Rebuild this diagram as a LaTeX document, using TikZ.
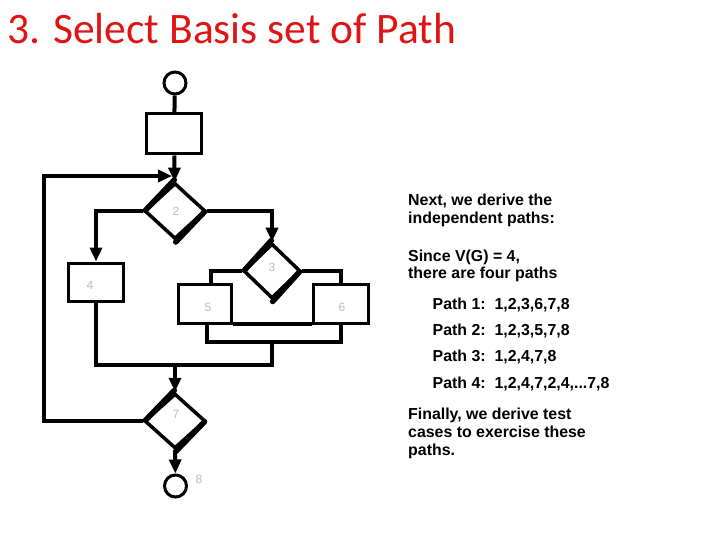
\documentclass[tikz,border=0pt]{standalone}
\usepackage{fontspec}
\newfontfamily\arial{Liberation Sans}
\newfontfamily\calibri{Carlito}
\usetikzlibrary{shapes.geometric,arrows.meta}
\definecolor{titlered}{RGB}{224,20,20}
\definecolor{lblgray}{RGB}{185,185,185}
\begin{document}
\begin{tikzpicture}[x=1pt,y=-1pt,
  shp/.style={draw,line width=3pt,inner sep=0pt},
  box/.style={shp,rectangle,minimum width=55pt,minimum height=39pt},
  dia/.style={shp,diamond,line width=3.5pt,minimum width=61pt,minimum height=56pt},
  term/.style={shp,circle,minimum size=22pt},
  conn/.style={line width=4pt},
  arr/.style={conn,-{Triangle[length=14pt,width=12pt]}},
  thick edge/.style={line width=5.5pt,line cap=round,shorten <=1pt,shorten >=1pt},
  lbl/.style={text=lblgray,inner sep=0pt,font=\arial\fontsize{12}{12}\selectfont},
  txt/.style={anchor=base west,inner sep=0pt,font=\arial\bfseries\fontsize{15.9}{18}\selectfont}]
\useasboundingbox (0,0) rectangle (720,540);

% title
\node[anchor=base west,inner sep=0pt,text=titlered,font=\calibri\fontsize{43.5}{44}\selectfont] (title) at (7,43.3) {3. Select Basis set of Path};

% flow graph shapes
\node[term] (s) at (175,83) {};
\node[box,minimum width=55pt,minimum height=40pt] (b1) at (174,134) {};
\node[dia] (d2) at (175,211) {};
\node[box,minimum height=38pt] (b4) at (96,282) {};
\node[dia,minimum width=57pt,minimum height=55pt] (d3) at (272,271) {};
\node[box,minimum width=53pt] (b5) at (204.5,304) {};
\node[box] (b6) at (341,304) {};
\node[dia,minimum height=55pt] (d7) at (175,421) {};
\node[term,minimum size=22pt] (e) at (175.5,486) {};

% heavier diamond edges
\foreach \d in {d2,d3,d7}{
  \draw[thick edge] ([xshift=2pt]\d.west) -- ([yshift=2pt]\d.north);
  \draw[thick edge] ([xshift=-2pt]\d.east) -- ([yshift=-2pt]\d.south);
}

% faint labels
\node[lbl] (l2) at (176,211) {2};
\node[lbl] (l3) at (272,267) {3};
\node[lbl] (l4) at (90,285) {4};
\node[lbl] (l5) at (208,307) {5};
\node[lbl] (l6) at (342,307) {6};
\node[lbl] (l7) at (176,414) {7};
\node[lbl] (l8) at (199,479) {8};

% junction points
\coordinate (j1) at (172,176);
\coordinate (m1) at (272,342);
\coordinate (m2) at (272,365);
\coordinate (m3) at (175,365);

% connectors
\draw[conn] (s) -- (b1);
\draw[arr] (b1) -- (d2);
\draw[arr] (d7.west) -- ++(-99,0) |- (j1);
\draw[arr] (d2.west) -| (b4.north);
\draw[arr] (d2.east) -| (d3.north);
\draw[conn] (d3.west) -| ([xshift=6pt]b5.north);
\draw[conn] (d3.east) -| (b6.north);
\draw[conn] ([yshift=1.5pt]b5.south east) -- ([yshift=1.5pt]b6.south west);
\draw[conn] ([xshift=2pt]b5.south) |- (m1) -| (b6.south);
\draw[conn] (b4.south) |- (m2) -- (m1);
\draw[arr] (m3) -- (d7.north);
\draw[arr] (d7.south) -- (e);

% text
\node[txt] (t1) at (408,206) {Next, we derive the};
\node[txt] (t2) at (408,224) {independent paths:};
\node[txt] (t3) at (408,261) {Since V(G) = 4,};
\node[txt] (t4) at (408,278) {there are four paths};
\node[txt] (p1) at (432.5,309) {Path 1:\ \ 1,2,3,6,7,8};
\node[txt] (p2) at (432.5,335.7) {Path 2:\ \ 1,2,3,5,7,8};
\node[txt] (p3) at (432.5,361.7) {Path 3:\ \ 1,2,4,7,8};
\node[txt] (p4) at (432.5,388.3) {Path 4:\ \ 1,2,4,7,2,4,...7,8};
\node[txt] (f1) at (408,419) {Finally, we derive test};
\node[txt] (f2) at (408,437) {cases to exercise these};
\node[txt] (f3) at (408,455) {paths.};
\end{tikzpicture}
\end{document}
